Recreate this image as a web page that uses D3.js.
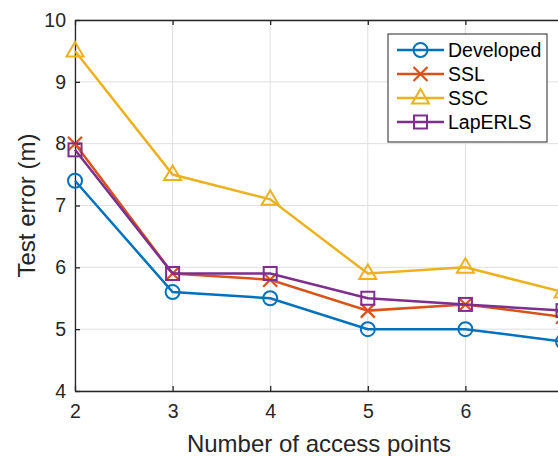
<!DOCTYPE html>
<html>
<head>
<meta charset="utf-8">
<script src="https://cdn.jsdelivr.net/npm/d3@7"></script>
<style>
  html, body { margin: 0; padding: 0; background: #fff; }
  svg { display: block; font-family: "Liberation Sans", Arial, sans-serif; }
</style>
</head>
<body>
<div id="viz"></div>
<script>
// data
const accessPoints = [2, 3, 4, 5, 6, 7];
const developed = [7.4, 5.6, 5.5, 5.0, 5.0, 4.8];
const ssl = [8.0, 5.9, 5.8, 5.3, 5.4, 5.2];
const ssc = [9.5, 7.5, 7.1, 5.9, 6.0, 5.6];
const lapErls = [7.9, 5.9, 5.9, 5.5, 5.4, 5.3];
const yTicks = [4, 5, 6, 7, 8, 9, 10];
const seriesNames = ["Developed", "SSL", "SSC", "LapERLS"];

const width = 558, height = 456;
const svg = d3.select("#viz").append("svg")
    .attr("width", width)
    .attr("height", height);

// plot box (right edge falls outside the window, as in the original crop)
const x = d3.scaleLinear().domain([2, 7]).range([75, 563]);
const y = d3.scaleLinear().domain([4, 10]).range([391, 20]);

const series = [
    { name: seriesNames[0], values: developed, color: "#0072BD", marker: "circle" },
    { name: seriesNames[1], values: ssl, color: "#D95319", marker: "cross" },
    { name: seriesNames[2], values: ssc, color: "#EDB120", marker: "triangle" },
    { name: seriesNames[3], values: lapErls, color: "#7E2F8E", marker: "square" }
];

// grid
const grid = svg.append("g").attr("stroke", "#dfdfdf").attr("stroke-width", 1);
grid.selectAll(".gx").data(accessPoints).enter().append("line")
    .attr("x1", d => x(d)).attr("x2", d => x(d))
    .attr("y1", y(4)).attr("y2", y(10));
grid.selectAll(".gy").data(yTicks).enter().append("line")
    .attr("x1", x(2)).attr("x2", x(7))
    .attr("y1", d => y(d)).attr("y2", d => y(d));

// axes (MATLAB style: inward ticks)
const axisColor = "#262626";
const xAxis = svg.append("g").attr("transform", `translate(0,${y(4)})`)
    .call(d3.axisBottom(x).tickValues(accessPoints).tickSizeInner(-5).tickSizeOuter(0).tickPadding(13).tickFormat(d3.format("d")));
const yAxis = svg.append("g").attr("transform", `translate(${x(2)},0)`)
    .call(d3.axisLeft(y).tickValues(yTicks).tickSizeInner(-5).tickSizeOuter(0).tickPadding(9).tickFormat(d3.format("d")));
const xTop = svg.append("g").attr("transform", `translate(0,${y(10)})`)
    .call(d3.axisTop(x).tickValues(accessPoints).tickSizeInner(-5).tickSizeOuter(0).tickFormat(""));
[xAxis, yAxis, xTop].forEach(a => {
    a.select(".domain").attr("stroke", axisColor).attr("stroke-width", 1.3);
    a.selectAll(".tick line").attr("stroke", axisColor).attr("stroke-width", 1.3);
    a.selectAll("text").attr("fill", axisColor).attr("font-size", 19.5);
});

svg.append("text")
    .attr("x", 319).attr("y", 452)
    .attr("text-anchor", "middle")
    .attr("font-size", 24).attr("fill", axisColor)
    .text("Number of access points");
svg.append("text")
    .attr("transform", `translate(35,${(y(4) + y(10)) / 2}) rotate(-90)`)
    .attr("text-anchor", "middle")
    .attr("font-size", 24).attr("fill", axisColor)
    .text("Test error (m)");

// markers
function drawMarker(g, type, color, cx, cy) {
    const s = 7;
    if (type === "circle") {
        g.append("circle").attr("cx", cx).attr("cy", cy).attr("r", s)
            .attr("fill", "none").attr("stroke", color).attr("stroke-width", 2);
    } else if (type === "cross") {
        g.append("path")
            .attr("d", `M${cx - s},${cy - s}L${cx + s},${cy + s}M${cx - s},${cy + s}L${cx + s},${cy - s}`)
            .attr("stroke", color).attr("stroke-width", 2.2).attr("fill", "none");
    } else if (type === "triangle") {
        g.append("path")
            .attr("d", `M${cx},${cy - 9}L${cx + 8.5},${cy + 5.5}L${cx - 8.5},${cy + 5.5}Z`)
            .attr("stroke", color).attr("stroke-width", 2).attr("fill", "none");
    } else {
        g.append("rect").attr("x", cx - 6.5).attr("y", cy - 6.5).attr("width", 13).attr("height", 13)
            .attr("stroke", color).attr("stroke-width", 2).attr("fill", "none");
    }
}

const line = d3.line().x((d, i) => x(accessPoints[i])).y(d => y(d));
series.forEach(s => {
    const g = svg.append("g");
    g.append("path").datum(s.values)
        .attr("d", line)
        .attr("fill", "none")
        .attr("stroke", s.color)
        .attr("stroke-width", 2.5);
    s.values.forEach((v, i) => drawMarker(g, s.marker, s.color, x(accessPoints[i]), y(v)));
});

// legend
const leg = svg.append("g").attr("transform", "translate(388,34)");
leg.append("rect").attr("width", 159).attr("height", 108)
    .attr("fill", "#fff").attr("stroke", axisColor).attr("stroke-width", 1);
series.forEach((s, i) => {
    const ly = 16 + i * 24;
    leg.append("line").attr("x1", 9).attr("x2", 56).attr("y1", ly).attr("y2", ly)
        .attr("stroke", s.color).attr("stroke-width", 2.5);
    drawMarker(leg, s.marker, s.color, 32.5, ly);
    leg.append("text").attr("x", 60).attr("y", ly + 7)
        .attr("font-size", 19.5).attr("fill", "#000")
        .text(s.name);
});
</script>
</body>
</html>
